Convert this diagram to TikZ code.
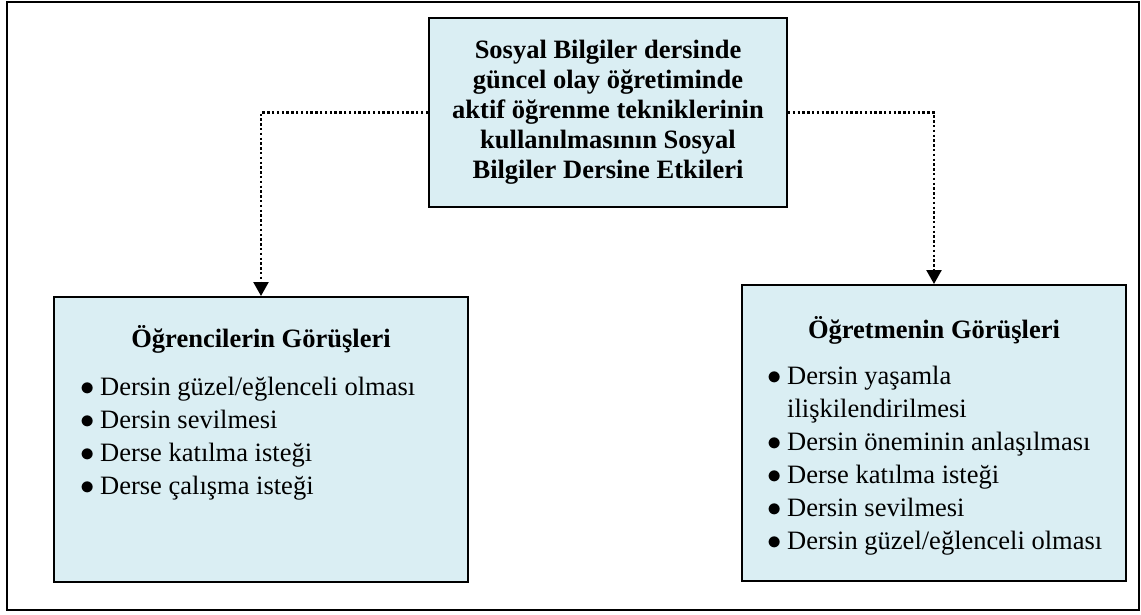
\documentclass[tikz,border=0pt]{standalone}
\usepackage{fontspec}
\setmainfont{Liberation Serif}
\usetikzlibrary{arrows.meta}
\definecolor{acikmavi}{HTML}{DAEEF3}
\newcommand{\madde}[1]{\makebox[20pt][l]{\scalebox{1.15}{$\bullet$}}#1}
\newcommand{\devam}[1]{\hspace*{20pt}#1}
\tikzset{
  kutu/.style={draw=black,fill=acikmavi,line width=2pt,inner sep=0pt},
  baslik/.style={font=\bfseries\fontsize{26.5}{30}\selectfont,align=center,inner sep=0pt},
  liste/.style={font=\fontsize{26.5}{33}\selectfont,align=left,inner sep=0pt,anchor=north west},
  ok/.style={-{Triangle[length=14pt,width=15pt]},line width=2.4pt,dash pattern=on 2.4pt off 2.4pt},
  dis/.style={line width=1.8pt},
}

\begin{document}
\begin{tikzpicture}[x=1pt,y=-1pt]
  \useasboundingbox (0,0) rectangle (1141,614);
  \draw[dis] (7,2) rectangle (1139,610);
  % ust kutu
  \node[kutu,baslik,minimum width=358pt,minimum height=189pt] (etki) at (608,112.5)
    {Sosyal Bilgiler dersinde\\ güncel olay öğretiminde\\ aktif öğrenme tekniklerinin\\
     kullanılmasının Sosyal\\ Bilgiler Dersine Etkileri};
  % alt kutular
  \node[kutu,minimum width=414pt,minimum height=285pt] (ogr) at (261,439.5) {};
  \node[kutu,minimum width=384pt,minimum height=296pt] (ogt) at (934,433) {};
  \node[baslik] (ogrbas) at (261,339) {Öğrencilerin Görüşleri};
  \node[baslik] (ogtbas) at (934,330) {Öğretmenin Görüşleri};
  \node[liste] (ogrlist) at (80,377) {\madde{Dersin güzel/eğlenceli olması}\\
    \madde{Dersin sevilmesi}\\ \madde{Derse katılma isteği}\\ \madde{Derse çalışma isteği}};
  \node[liste] (ogtlist) at (767,366) {\madde{Dersin yaşamla}\\ \devam{ilişkilendirilmesi}\\
    \madde{Dersin öneminin anlaşılması}\\ \madde{Derse katılma isteği}\\
    \madde{Dersin sevilmesi}\\ \madde{Dersin güzel/eğlenceli olması}};
  % oklar
  \draw[ok] (etki.west) -| (ogr.north);
  \draw[ok] (etki.east) -| (ogt.north);
\end{tikzpicture}
\end{document}
